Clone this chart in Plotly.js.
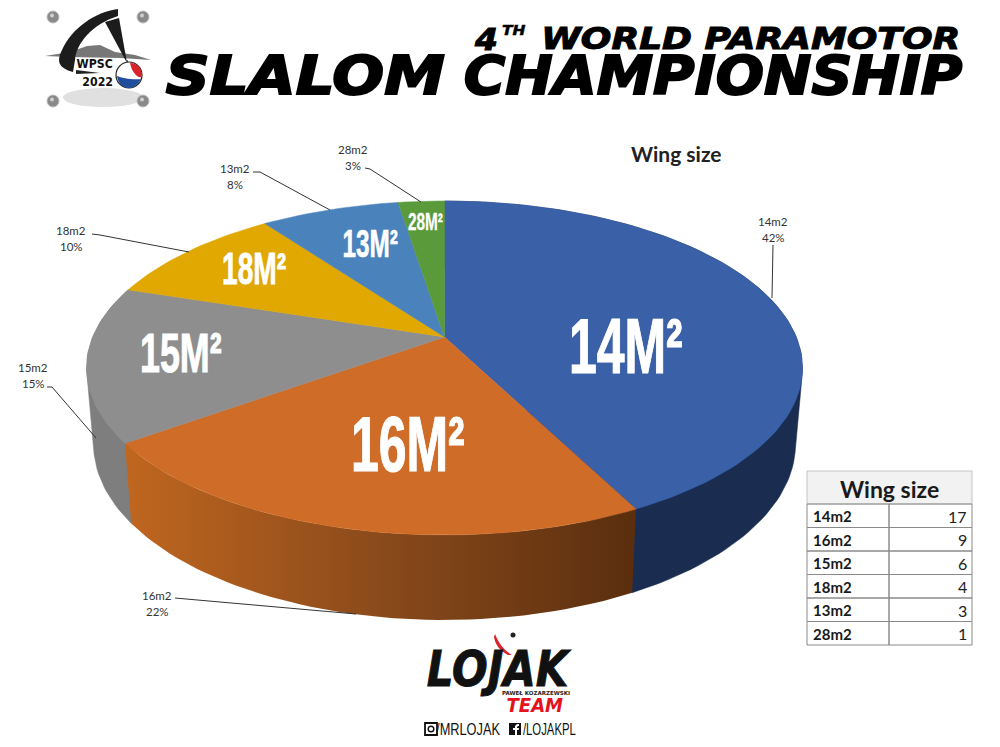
<!DOCTYPE html>
<html>
<head>
<meta charset="utf-8">
<script src="https://cdn.plot.ly/plotly-3.0.1.min.js"></script>
<style>html,body{margin:0;padding:0;background:#fff}#chart{width:1000px;height:747px}</style>
</head>
<body>
<div id="chart"></div>
<script>
// ---- data ----
const categories = ['14m2', '16m2', '15m2', '18m2', '13m2', '28m2'];
const counts = [17, 9, 6, 4, 3, 1];
const percents = ['42%', '22%', '15%', '10%', '8%', '3%'];
const sliceColors = ['#3A60A8', '#CE6C28', '#8E8E8E', '#E0A800', '#4A82BC', '#5B9A3A'];
const tableTitle = 'Wing size';
const chartTitle = 'Wing size';

// ---- 3D disc geometry (layout only) ----
const topDisc = {cx: 444.5, cy: 368, rx: 358, ry: 167};
const baseDisc = {cx: 444.5, cy: 444, rx: 351, ry: 176};
const tilt = -0.186;
const total = counts.reduce((a, b) => a + b, 0);
function rim(frac, d) {
  const t = frac * 2 * Math.PI, sx = Math.sin(t), sy = -Math.cos(t);
  const w = 1 + tilt * sy;
  return [d.cx + d.rx * sx * Math.sqrt(1 - tilt * tilt) / w, d.cy + d.ry * (sy + tilt) / w];
}
function arc(f0, f1, d) {
  const n = Math.max(4, Math.ceil((f1 - f0) * 240)), out = [];
  for (let i = 0; i <= n; i++) out.push(rim(f0 + (f1 - f0) * i / n, d));
  return out;
}
function hull(pts) {
  const p = pts.slice().sort((a, b) => a[0] - b[0] || a[1] - b[1]);
  const cross = (o, a, b) => (a[0]-o[0])*(b[1]-o[1]) - (a[1]-o[1])*(b[0]-o[0]);
  const lo = [], up = [];
  for (const q of p) { while (lo.length > 1 && cross(lo[lo.length-2], lo[lo.length-1], q) <= 0) lo.pop(); lo.push(q); }
  for (const q of p.slice().reverse()) { while (up.length > 1 && cross(up[up.length-2], up[up.length-1], q) <= 0) up.pop(); up.push(q); }
  return lo.slice(0, -1).concat(up.slice(0, -1));
}
const starts = [];
counts.reduce((acc, v, i) => { starts[i] = acc / total; return acc + v; }, 0);
const ends = starts.map((s, i) => s + counts[i] / total);
const apex = [topDisc.cx, topDisc.cy + topDisc.ry * tilt];

function poly(pts, extra) {
  const closed = pts.concat([pts[0]]);
  return Object.assign({type: 'scatter', mode: 'lines', x: closed.map(p => p[0]), y: closed.map(p => p[1]),
    fill: 'toself', showlegend: false, hoverinfo: 'skip'}, extra);
}
const traces = [];
traces.push(poly(hull(arc(starts[0], ends[0], topDisc).concat(arc(starts[0], ends[0], baseDisc))),
  {fillcolor: '#1A2C50', line: {color: '#1A2C50', width: 0.5}}));
traces.push(poly(hull(arc(starts[2], ends[2], topDisc).concat(arc(starts[2], ends[2], baseDisc))),
  {fillcolor: '#7E7E7E', line: {color: '#7E7E7E', width: 0.5}}));
traces.push(poly(arc(starts[1], ends[1], topDisc).concat(arc(starts[1], ends[1], baseDisc).reverse()),
  {fillcolor: '#8A4A1B', line: {width: 0},
   fillgradient: {type: 'horizontal', colorscale: [[0, '#C0661F'], [0.5, '#8A4A1B'], [1, '#5A2E0E']]}}));
categories.forEach((c, i) => {
  traces.push(poly([apex].concat(arc(starts[i], ends[i], topDisc)),
    {fillcolor: sliceColors[i], line: {color: sliceColors[i], width: 0.5}, name: c,
     text: c + ': ' + counts[i], hoverinfo: 'text'}));
});

// ---- decorations ----
const shapes = [], annotations = [], stretch = [];
function ann(text, x, y, size, o) {
  o = o || {};
  annotations.push({xref: 'x', yref: 'y', x, y, text, showarrow: false, xanchor: o.anchor || 'center', yanchor: 'middle',
    font: {family: o.family || 'Lato', size, color: o.color || '#222',
           weight: o.weight || 400, style: o.italic ? 'italic' : 'normal'}});
  if (o.sx || o.stroke) stretch.push({i: annotations.length - 1, sx: o.sx || 1, stroke: o.stroke, color: o.color || '#000'});
}
function line(pts, color, w) {
  shapes.push({type: 'path', xref: 'x', yref: 'y', path: 'M' + pts.map(p => p.join(',')).join('L'),
    line: {color: color || '#333', width: w || 1}});
}
function fillPath(path, color) {
  shapes.push({type: 'path', xref: 'x', yref: 'y', path, fillcolor: color, line: {width: 0}});
}
function circle(cx, cy, r, fill, lc, lw) {
  shapes.push({type: 'circle', xref: 'x', yref: 'y', x0: cx - r, x1: cx + r, y0: cy - r, y1: cy + r, fillcolor: fill,
    line: {color: lc || fill, width: lw || 0}});
}

// callouts
const calloutPos = [[773, 229], [157, 603], [33, 375], [71, 238.5], [235, 176.5], [353, 157]];
const calloutLines = [
  [[773, 245], [772, 298]],
  [[175, 598], [220, 602], [356, 614]],
  [[47, 387], [52, 387], [96, 438]],
  [[92, 234], [100, 235], [189, 252]],
  [[253, 172], [260, 172], [330, 210]],
  [[365, 168], [370, 169], [421, 202]]
];
categories.forEach((c, i) => {
  ann(c, calloutPos[i][0], calloutPos[i][1] - 8, 11.5, {color: '#333'});
  ann(percents[i], calloutPos[i][0], calloutPos[i][1] + 8, 11.5, {color: '#333'});
  line(calloutLines[i], '#333', 1);
});

// labels inside slices
const sliceLabelPos = [[626, 346], [408, 444], [181, 352], [254, 268], [370, 244], [425, 221]];
const sliceLabelSize = [78, 78, 56, 44, 38, 24];
const sliceLabelStroke = [1.2, 1.2, 1, 0.8, 0.6, 0.3];
categories.forEach((c, i) => {
  ann(c.replace('m2', 'M²'), sliceLabelPos[i][0], sliceLabelPos[i][1], sliceLabelSize[i],
    {family: 'Liberation Sans Narrow, Liberation Sans', color: '#fff', weight: 700, sx: 0.64, stroke: sliceLabelStroke[i]});
});

ann('<b>' + chartTitle + '</b>', 676, 153, 21, {color: '#222'});

// headline
const head = 'DejaVu Sans';
ann('4', 486, 39, 30, {family: head, weight: 700, italic: true, color: '#000', sx: 1.1, stroke: 1});
ann('TH', 514, 30, 14, {family: head, weight: 700, italic: true, color: '#000', sx: 1.1, stroke: 0.5});
ann('WORLD PARAMOTOR', 750, 38, 30, {family: head, weight: 700, italic: true, color: '#000', sx: 1.2, stroke: 1});
ann('SLALOM', 305.5, 75, 53, {family: head, weight: 700, italic: true, color: '#000', sx: 1.15, stroke: 2});
ann('CHAMPIONSHIP', 712.5, 75, 53, {family: head, weight: 700, italic: true, color: '#000', sx: 1.07, stroke: 2});

// WPSC badge
shapes.push({type: 'circle', xref: 'x', yref: 'y', x0: 63, x1: 143, y0: 88, y1: 107, fillcolor: '#E0E0E0', line: {width: 0}});
[[53, 17], [143, 17], [53, 101], [143, 101]].forEach(p => {
  circle(p[0], p[1], 6, '#8A8A8A', '#BDBDBD', 1); circle(p[0] - 1, p[1] - 1.5, 2, '#CFCFCF');
});
fillPath('M45,56 L70,52 L87,46 L100,45 L115,52 L135,55 L151,60 L120,58 L70,57 Z', '#777777');
fillPath('M118,9 C95,12 72,28 62,50 C56,62 59,68 73,72 L75,60 C76,44 92,24 118,16 Z', '#1C1C1C');
fillPath('M105,22 L119,18 L127,63 Z', '#1C1C1C');
line([[127, 60], [129, 70]], '#1C1C1C', 1);
fillPath('M76,70 L100,73 L76,74 Z', '#222222');
ann('WPSC', 95, 64, 12, {family: 'DejaVu Sans', weight: 700, color: '#111', sx: 0.92});
ann('2022', 97, 82, 12, {family: 'DejaVu Sans', weight: 700, color: '#111', sx: 0.92});
circle(129, 75, 13, '#FFFFFF', '#222222', 1.2);
fillPath('M130,63 C138,63 142,69 142,76 C140,80 132,74 130,63 Z', '#D8232A');
fillPath('M117,76 C122,78 132,80 141,79 C138,85 133,88 129,88 C122,88 118,83 117,76 Z', '#1F4E9C');

// bottom logo
fillPath('M495,634 C499,644 504,650 512,655 L508,655 C500,651 495,644 494,637 Z', '#D8232A');
circle(513, 635, 2.5, '#222222');
ann('LOJAK', 499, 669, 50, {family: head, weight: 700, italic: true, color: '#111', sx: 0.84, stroke: 1});
ann('PAWEŁ KOZARZEWSKI', 536, 693, 5.5, {family: head, weight: 700, color: '#222'});
ann('TEAM', 535, 704.5, 19, {family: head, weight: 700, italic: true, color: '#E3121B', sx: 0.95});
shapes.push({type: 'rect', xref: 'x', yref: 'y', x0: 425, x1: 437, y0: 723, y1: 735, line: {color: '#111', width: 1.8}, fillcolor: 'rgba(0,0,0,0)'});
circle(431, 729, 2.8, '#FFFFFF', '#111111', 1.4);
ann('/MRLOJAK', 468, 729, 16, {family: 'Liberation Sans Narrow, Liberation Sans', color: '#111', sx: 0.8});
shapes.push({type: 'rect', xref: 'x', yref: 'y', x0: 509, x1: 521, y0: 723, y1: 735, fillcolor: '#111111', line: {width: 0}});
fillPath('M515,735 L515,730 L513,730 L513,728 L515,728 C515,725 516,724 519,724 L519,726 C517.5,726 517,726.5 517,728 L519,728 L518.7,730 L517,730 L517,735 Z', '#FFFFFF');
ann('/LOJAKPL', 549.5, 729, 16, {family: 'Liberation Sans Narrow, Liberation Sans', color: '#111', sx: 0.71});

// table
const tbl = {x0: 807, x1: 972, xm: 889, top: 471, head: 504, rowH: 23.5};
const grid = '#8A8A8A';
shapes.push({type: 'rect', xref: 'x', yref: 'y', x0: tbl.x0, x1: tbl.x1, y0: tbl.top, y1: tbl.head, fillcolor: '#F2F2F2', line: {color: '#C4C4C4', width: 1}});
ann('<b>' + tableTitle + '</b>', (tbl.x0 + tbl.x1) / 2, (tbl.top + tbl.head) / 2 + 1, 23, {color: '#1A1A1A'});
categories.forEach((c, i) => {
  const y0 = tbl.head + i * tbl.rowH, y1 = y0 + tbl.rowH;
  shapes.push({type: 'rect', xref: 'x', yref: 'y', x0: tbl.x0, x1: tbl.xm, y0, y1, line: {color: grid, width: 1}});
  shapes.push({type: 'rect', xref: 'x', yref: 'y', x0: tbl.xm, x1: tbl.x1, y0, y1, line: {color: grid, width: 1}});
  ann('<b>' + c + '</b>', tbl.x0 + 4, (y0 + y1) / 2 + 0.5, 15, {anchor: 'left', color: '#1A1A1A'});
  ann(String(counts[i]), tbl.x1 - 3, (y0 + y1) / 2 + 0.5, 16, {anchor: 'right', color: '#222'});
});

const layout = {
  width: 1000, height: 747, margin: {l: 0, r: 0, t: 0, b: 0},
  paper_bgcolor: '#fff', plot_bgcolor: '#fff', showlegend: false,
  xaxis: {range: [0, 1000], visible: false, fixedrange: true},
  yaxis: {range: [747, 0], visible: false, fixedrange: true},
  shapes, annotations
};
Plotly.newPlot('chart', traces, layout, {staticPlot: true, displayModeBar: false}).then(() => {
  const nodes = document.querySelectorAll('.annotation');
  stretch.forEach(s => {
    const t = nodes[s.i] && nodes[s.i].querySelector('text');
    if (!t) return;
    t.style.transformBox = 'fill-box';
    t.style.transformOrigin = 'center';
    t.style.transform = 'scaleX(' + s.sx + ')';
    if (s.stroke) { t.style.stroke = s.color; t.style.strokeWidth = s.stroke + 'px'; }
  });
});
</script>
</body>
</html>
